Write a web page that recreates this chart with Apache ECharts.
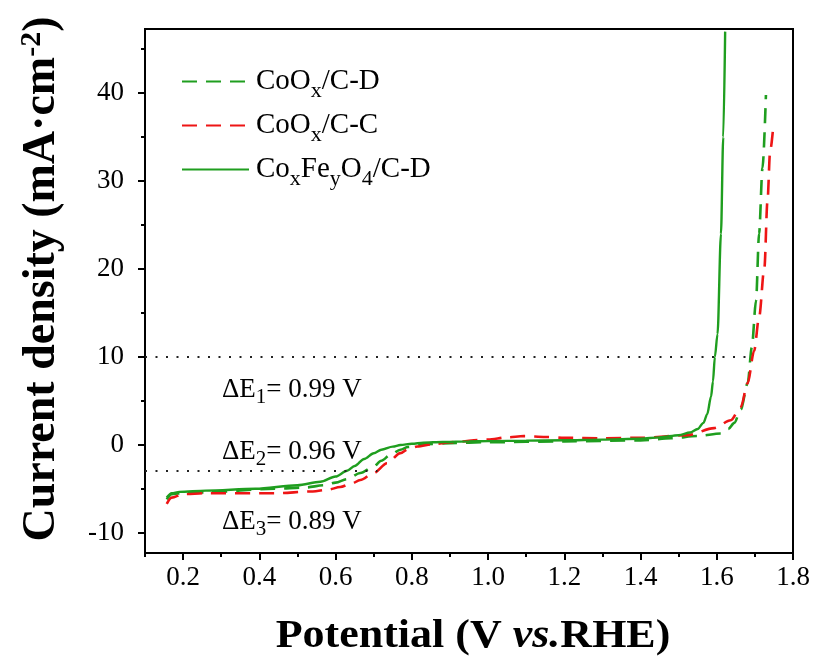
<!DOCTYPE html>
<html>
<head>
<meta charset="utf-8">
<script src="https://cdn.jsdelivr.net/npm/echarts@6/dist/echarts.min.js"></script>
<style>
  html, body { margin: 0; padding: 0; background: #ffffff; }
  #chart { width: 817px; height: 666px; }
</style>
</head>
<body>
<div id="chart"></div>
<script>
// ---- axis ticks ----
const xTickLabels = ['0.2', '0.4', '0.6', '0.8', '1.0', '1.2', '1.4', '1.6', '1.8'];
const xMinorTicks = [0.1, 0.3, 0.5, 0.7, 0.9, 1.1, 1.3, 1.5, 1.7];
const yTickLabels = ['-10', '0', '10', '20', '30', '40'];
const yMinorTicks = [-5, 5, 15, 25, 35, 45];

// ---- series names ----
const seriesNames = ['CoOx/C-D', 'CoOx/C-C', 'CoxFeyO4/C-D'];

// ---- CoOx/C-D (green dashed) ----
const potCoOxD = [0.157, 0.17, 0.2, 0.26, 0.44, 0.52, 0.57, 0.6, 0.63, 0.665, 0.70, 0.72, 0.745, 0.77, 0.79, 0.83,
  0.9, 1.0, 1.2, 1.4, 1.48, 1.55, 1.611, 1.63, 1.646, 1.663, 1.681, 1.692, 1.703, 1.711, 1.72, 1.729];
const curCoOxD = [-6.2, -5.6, -5.45, -5.4, -5.0, -4.85, -4.6, -4.3, -3.9, -3.2, -2.45, -1.8, -1.1, -0.55, -0.25, 0.05,
  0.2, 0.3, 0.4, 0.5, 0.76, 1.0, 1.3, 1.8, 2.5, 4.0, 7.0, 11.1, 16.4, 24, 31.5, 39.8];

// ---- CoOx/C-C (red dashed) ----
const potCoOxC = [0.157, 0.17, 0.2, 0.26, 0.44, 0.54, 0.58, 0.612, 0.64, 0.665, 0.70, 0.735, 0.77, 0.79, 0.814, 0.858,
  0.9, 1.0, 1.05, 1.094, 1.15, 1.2, 1.3, 1.4, 1.523, 1.593, 1.637, 1.663, 1.681, 1.698, 1.711, 1.725, 1.733, 1.74, 1.748];
const curCoOxC = [-6.7, -6.0, -5.6, -5.5, -5.5, -5.3, -5.1, -4.8, -4.45, -4.0, -3.2, -2.1, -0.94, -0.5, -0.19, 0.1,
  0.3, 0.6, 0.85, 1.0, 0.9, 0.8, 0.75, 0.8, 1.1, 1.9, 2.8, 4.3, 7.0, 10.7, 14.5, 20.2, 27.7, 33.4, 36.1];

// ---- CoxFeyO4/C-D (green solid) ----
const potCoFeD = [0.157, 0.17, 0.19, 0.26, 0.39, 0.5, 0.56, 0.6, 0.63, 0.65, 0.675, 0.70, 0.72, 0.75, 0.77, 0.80, 0.83,
  0.88, 0.95, 1.0, 1.1, 1.2, 1.3, 1.4, 1.45, 1.5, 1.53, 1.55, 1.565, 1.575, 1.585, 1.59, 1.595, 1.602, 1.611, 1.617, 1.622];
const curCoFeD = [-6.0, -5.5, -5.35, -5.2, -5.0, -4.6, -4.2, -3.6, -2.95, -2.4, -1.6, -0.95, -0.55, -0.2, -0.02, 0.12, 0.25,
  0.33, 0.4, 0.42, 0.48, 0.52, 0.6, 0.7, 0.85, 1.1, 1.4, 1.8, 2.5, 3.5, 5.5, 7.2, 10, 12.6, 24, 35, 47];

// ---- dotted reference levels ----
const refLevels = [10, -3];
const refStarts = [0.1, 0.1];
const refEnds = [1.695, 0.71];

// ---- ΔE annotations ----
const deltaValues = ['0.99', '0.96', '0.89'];

const GREEN = '#1f9e1f';
const RED = '#ee1515';
const SERIF = '"Liberation Serif", "Times New Roman", serif';

function zip(xs, ys) { return xs.map((x, i) => [x, ys[i]]); }

const chart = echarts.init(document.getElementById('chart'), null, { renderer: 'canvas' });

// subscripts: a short token box aligned to the bottom of the line drops the glyph below the baseline
const legendRich = {
  n: { fontFamily: SERIF, fontSize: 29, color: '#000', lineHeight: 30 },
  s: { fontFamily: SERIF, fontSize: 22, color: '#000', height: 11, verticalAlign: 'bottom' }
};
const legendText = {
  'CoOx/C-D': '{n|CoO}{s|x}{n|/C-D}',
  'CoOx/C-C': '{n|CoO}{s|x}{n|/C-C}',
  'CoxFeyO4/C-D': '{n|Co}{s|x}{n|Fe}{s|y}{n|O}{s|4}{n|/C-D}'
};

const xMin = 0.1, xMax = 1.8, yMin = -12.3, yMax = 47.3;

const deltaRich = {
  n: { fontFamily: SERIF, fontSize: 27, fill: '#000', lineHeight: 30 },
  s: { fontFamily: SERIF, fontSize: 21, fill: '#000', height: 16, verticalAlign: 'bottom' }
};
const deltaY = [390, 452, 522];

const option = {
  backgroundColor: '#ffffff',
  animation: false,
  grid: {
    left: 145, right: 24, top: 29, bottom: 113,
    show: true, borderColor: '#000', borderWidth: 2, backgroundColor: 'transparent'
  },
  legend: {
    orient: 'vertical',
    left: 181, top: 67, padding: 0,
    itemWidth: 67, itemHeight: 14, itemGap: 9,
    selectedMode: false,
    data: seriesNames,
    itemStyle: { opacity: 0 },
    formatter: name => legendText[name],
    textStyle: { rich: legendRich, padding: [0, 0, 0, 2] }
  },
  xAxis: [{
    type: 'value', min: xMin, max: xMax, position: 'bottom',
    splitLine: { show: false },
    axisLine: { show: true, onZero: false, lineStyle: { color: '#000', width: 2 } },
    axisTick: { show: true, inside: false, length: 7, lineStyle: { color: '#000', width: 2 },
      customValues: xTickLabels.map(Number) },
    axisLabel: { show: true, margin: 11, color: '#000', fontFamily: SERIF, fontSize: 27,
      customValues: xTickLabels.map(Number), formatter: v => Number(v).toFixed(1) }
  }, {
    type: 'value', min: xMin, max: xMax, position: 'bottom', offset: 0,
    splitLine: { show: false },
    axisLine: { show: false, onZero: false },
    axisTick: { show: true, inside: false, length: 4, lineStyle: { color: '#000', width: 2 },
      customValues: xMinorTicks },
    axisLabel: { show: false }
  }],
  yAxis: [{
    type: 'value', min: yMin, max: yMax, position: 'left',
    splitLine: { show: false },
    axisLine: { show: true, onZero: false, lineStyle: { color: '#000', width: 2 } },
    axisTick: { show: true, inside: false, length: 7, lineStyle: { color: '#000', width: 2 },
      customValues: yTickLabels.map(Number) },
    axisLabel: { show: true, margin: 21, color: '#000', fontFamily: SERIF, fontSize: 27,
      customValues: yTickLabels.map(Number), formatter: v => String(v) }
  }, {
    type: 'value', min: yMin, max: yMax, position: 'left', offset: 0,
    splitLine: { show: false },
    axisLine: { show: false, onZero: false },
    axisTick: { show: true, inside: false, length: 4, lineStyle: { color: '#000', width: 2 },
      customValues: yMinorTicks },
    axisLabel: { show: false }
  }],
  series: [
    {
      name: seriesNames[0], type: 'line', xAxisIndex: 0, yAxisIndex: 0,
      data: zip(potCoOxD, curCoOxD), showSymbol: false, symbol: 'none',
      smooth: 0.3, smoothMonotone: 'x', clip: true,
      itemStyle: { color: GREEN },
      lineStyle: { color: GREEN, width: 2.6, type: [15, 9] },
      markLine: {
        silent: true, symbol: ['none', 'none'], animation: false,
        label: { show: false },
        lineStyle: { color: '#222', width: 2, type: [2, 8.5] },
        data: refLevels.map((lv, i) => [{ coord: [refStarts[i], lv] }, { coord: [refEnds[i], lv] }])
      },
      z: 2
    },
    {
      name: seriesNames[1], type: 'line', xAxisIndex: 0, yAxisIndex: 0,
      data: zip(potCoOxC, curCoOxC), showSymbol: false, symbol: 'none',
      smooth: 0.3, smoothMonotone: 'x', clip: true,
      itemStyle: { color: RED },
      lineStyle: { color: RED, width: 2.6, type: [15, 9] },
      z: 3
    },
    {
      name: seriesNames[2], type: 'line', xAxisIndex: 0, yAxisIndex: 0,
      data: zip(potCoFeD, curCoFeD), showSymbol: false, symbol: 'none',
      smooth: 0.3, smoothMonotone: 'x', clip: true,
      itemStyle: { color: GREEN },
      lineStyle: { color: GREEN, width: 2.4 },
      z: 4
    }
  ],
  graphic: [
    {
      type: 'text', x: 473, y: 637, scaleX: 1.1,
      style: {
        text: '{b|Potential (V }{i|vs.}{b|RHE)}',
        textAlign: 'center', textVerticalAlign: 'middle',
        rich: {
          b: { fontFamily: SERIF, fontSize: 40, fontWeight: 'bold', fill: '#000' },
          i: { fontFamily: SERIF, fontSize: 40, fontWeight: 'bold', fontStyle: 'italic', fill: '#000' }
        }
      }
    },
    {
      type: 'text', x: 42, y: 279, rotation: Math.PI / 2,
      style: {
        text: '{b|Current density (mA·cm}{p|-2}{b|)}',
        textAlign: 'center', textVerticalAlign: 'middle',
        rich: {
          b: { fontFamily: SERIF, fontSize: 46, fontWeight: 'bold', fill: '#000', lineHeight: 50 },
          p: { fontFamily: SERIF, fontSize: 30, fontWeight: 'bold', fill: '#000', lineHeight: 30, verticalAlign: 'top' }
        }
      }
    }
  ].concat(deltaValues.map((v, i) => ({
    type: 'text', x: 222, y: deltaY[i],
    style: {
      text: '{n|ΔE}{s|' + (i + 1) + '}{n|= ' + v + ' V}',
      textAlign: 'left', textVerticalAlign: 'middle',
      rich: deltaRich
    }
  })))
};

chart.setOption(option);
</script>
</body>
</html>
